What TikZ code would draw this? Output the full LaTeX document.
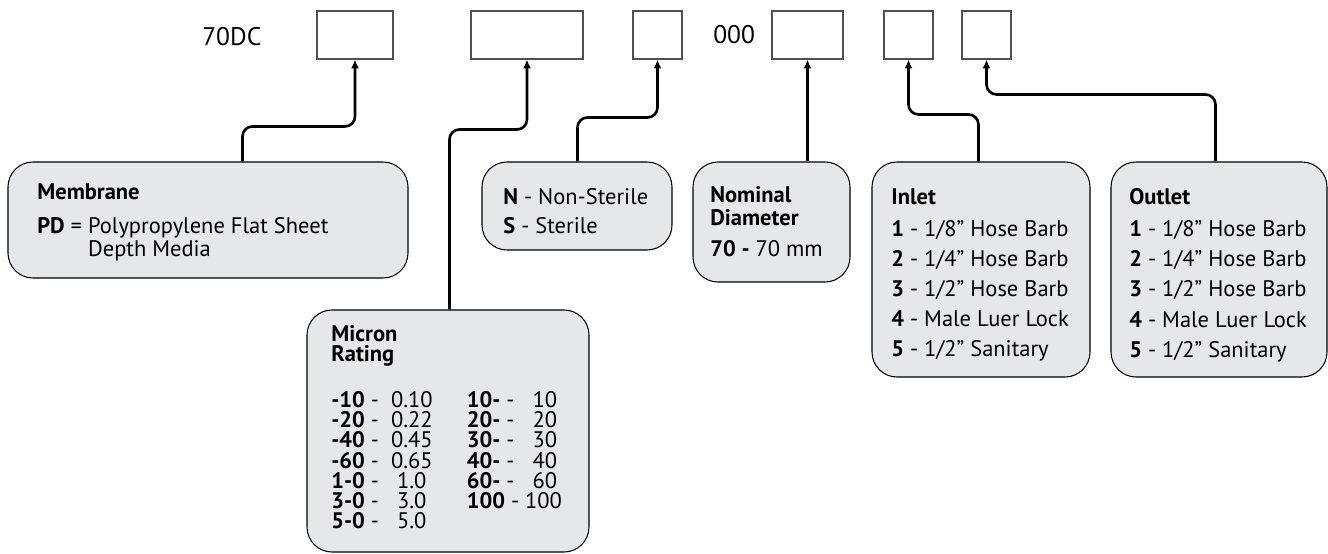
\documentclass[tikz,border=0pt]{standalone}
\usepackage{fontspec}
\setmainfont{PT Sans}
\usetikzlibrary{arrows.meta, positioning, calc, fit}
\definecolor{boxfill}{RGB}{230, 231, 232}
\definecolor{slotline}{RGB}{80, 80, 80}

\begin{document}
\begin{tikzpicture}[
    x=0.02cm, y=-0.02cm,
    slotbox/.style={rectangle, draw=slotline, line width=0.6pt, inner sep=0pt},
    infobox/.style={rectangle, draw, line width=0.6pt, fill=boxfill, rounded corners=0.5cm, inner sep=0pt},
    infotext/.style={anchor=north west, align=left, inner sep=0pt, font=\fontsize{12.8}{17.2}\selectfont},
    codetext/.style={anchor=west, inner sep=0pt, font=\fontsize{14.5}{16}\selectfont},
    link/.style={line width=1.5pt, rounded corners=0.2cm, -{Latex[length=5pt,width=4.5pt]}}
]
\useasboundingbox (0,0) rectangle (1328,554);

% Part number
\node[codetext] (prefix) at (202,37) {70DC};
\node[codetext] (fixed) at (713,35) {000};
\node[slotbox, fit={(317,11) (393,59)}] (slotmem) {};
\node[slotbox, fit={(471,11) (583,59)}] (slotmicron) {};
\node[slotbox, fit={(633,11) (682,59)}] (slotster) {};
\node[slotbox, fit={(772,11) (843,59)}] (slotdiam) {};
\node[slotbox, fit={(884,11) (933,59)}] (slotin) {};
\node[slotbox, fit={(962,11) (1011,59)}] (slotout) {};

% Option boxes
\node[infobox, fit={(8,162) (408,278)}] (membrane) {};
\node[infobox, fit={(307,310) (589,552)}] (micron) {};
\node[infobox, fit={(482,162) (672,250)}] (sterile) {};
\node[infobox, fit={(693,162) (850,282)}] (nominal) {};
\node[infobox, fit={(872,162) (1090,377)}] (inlet) {};
\node[infobox, fit={(1111,162) (1327,377)}] (outlet) {};

% Texts
\node[infotext, font=\fontsize{12.8}{13}\selectfont] (membranetext) at (37,183)
    {\textbf{Membrane}\\[6.8pt]\textbf{PD} = Polypropylene Flat Sheet\\\phantom{\textbf{PD} = }Depth Media};
\node[infotext, font=\fontsize{12.8}{11.3}\selectfont] (microntext) at (331,325)
    {\textbf{Micron}\\\textbf{Rating}\\[13.5pt]
     \renewcommand{\arraystretch}{0.7}%
     \begin{tabular}{@{}p{77.1pt}@{}l@{}}
     \textbf{-10} -\ \ 0.10 & \textbf{10-} -\ \ \ 10\\
     \textbf{-20} -\ \ 0.22 & \textbf{20-} -\ \ \ 20\\
     \textbf{-40} -\ \ 0.45 & \textbf{30-} -\ \ \ 30\\
     \textbf{-60} -\ \ 0.65 & \textbf{40-} -\ \ \ 40\\
     \textbf{1-0} -\ \ \ 1.0 & \textbf{60-} -\ \ \ 60\\
     \textbf{3-0} -\ \ \ 3.0 & \textbf{100} - 100\\
     \textbf{5-0} -\ \ \ 5.0 &
     \end{tabular}};
\node[infotext, font=\fontsize{12.8}{16.4}\selectfont] (steriletext) at (503,188)
    {\textbf{N} - Non-Sterile\\\textbf{S} - Sterile};
\node[infotext, font=\fontsize{12.8}{13}\selectfont] (nominaltext) at (710,186)
    {\textbf{Nominal}\\\textbf{Diameter}\\[5.1pt]\textbf{70 -} 70 mm};
\node[infotext] (inlettext) at (891,188)
    {\textbf{Inlet}\\[1pt]\textbf{1} - 1/8” Hose Barb\\\textbf{2} - 1/4” Hose Barb\\\textbf{3} - 1/2” Hose Barb\\
     \textbf{4} - Male Luer Lock\\\textbf{5} - 1/2” Sanitary};
\node[infotext] (outlettext) at (1129,188)
    {\textbf{Outlet}\\[1pt]\textbf{1} - 1/8” Hose Barb\\\textbf{2} - 1/4” Hose Barb\\\textbf{3} - 1/2” Hose Barb\\
     \textbf{4} - Male Luer Lock\\\textbf{5} - 1/2” Sanitary};

% Connections
\draw[link] (membrane.north west) ++(235,0) -- ++(0,-35) -| (slotmem.south);
\draw[link] (micron.north west) ++(143,0) -- ++(0,-180) -| (slotmicron.south);
\draw[link] (sterile.north west) ++(96,0) -- ++(0,-44) -| (slotster.south);
\draw[link] (slotdiam.south |- nominal.north) -- (slotdiam.south);
\draw[link] (inlet.north west) ++(107,0) -- ++(0,-47) -| (slotin.south);
\draw[link] (outlet.north west) ++(105,0) -- ++(0,-67) -| (slotout.south);

\end{tikzpicture}
\end{document}
